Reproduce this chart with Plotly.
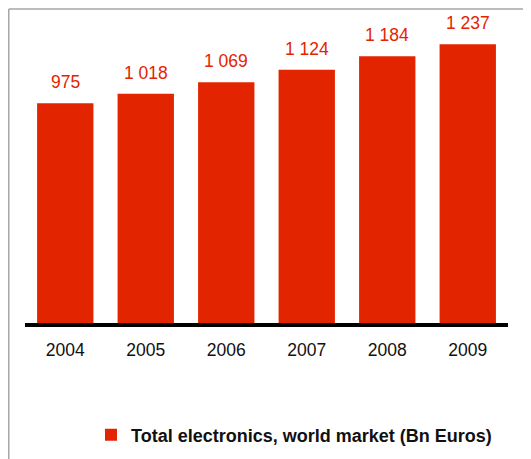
import plotly.graph_objects as go

years = ["2004", "2005", "2006", "2007", "2008", "2009"]
values = [975, 1018, 1069, 1124, 1184, 1237]
value_labels = ["975", "1 018", "1 069", "1 124", "1 184", "1 237"]
series_name = "Total electronics, world market (Bn Euros)"

RED = "#E32400"
OFF = 8                      # page body margin
W, H = 531 - OFF, 459 - OFF  # figure size
L, R, T, B = 17, 23, 12, 136
pw, ph = W - L - R, H - T - B

def px_x(sx):                # screen px -> paper
    return (sx - OFF - L) / pw

def px_y(sy):
    return (H - B - (sy - OFF)) / ph

fig = go.Figure()
fig.add_trace(go.Bar(
    x=years, y=values, name="<b>" + series_name + "</b>",
    marker=dict(color=RED, line=dict(width=0)),
    showlegend=True,
))

# value labels (x given as category index on the category axis)
for i, (v, lab) in enumerate(zip(values, value_labels)):
    fig.add_annotation(x=i, y=v, text=lab, showarrow=False,
                       yanchor="bottom", yshift=9,
                       font=dict(family="Liberation Sans, Arial", size=17.5, color=RED))

# gray frame (top and left)
fig.add_shape(type="line", xref="paper", yref="paper",
              x0=px_x(8.75), x1=px_x(540), y0=px_y(9), y1=px_y(9),
              line=dict(color="#A6A6A6", width=1.5))
fig.add_shape(type="line", xref="paper", yref="paper",
              x0=px_x(8.75), x1=px_x(8.75), y0=px_y(9), y1=px_y(470),
              line=dict(color="#A6A6A6", width=1.5))

fig.update_layout(
    width=W, height=H,
    margin=dict(l=L, r=R, t=T, b=B, autoexpand=False),
    paper_bgcolor="white", plot_bgcolor="white",
    bargap=0.3,
    font=dict(family="Liberation Sans, Arial", color="#111111"),
    xaxis=dict(type="category", range=[-0.5, 5.5], showline=True,
               linecolor="black", linewidth=4,
               ticks="", showgrid=False, zeroline=False,
               tickfont=dict(size=17.5, color="#111111"),
               ticklabelstandoff=8),
    yaxis=dict(range=[0, 1345], visible=False, showgrid=False, zeroline=False),
    legend=dict(orientation="h", x=px_x(91), y=px_y(435),
                xanchor="left", yanchor="middle",
                font=dict(size=18, color="#111111", family="Liberation Sans, Arial"),
                bgcolor="rgba(0,0,0,0)"),
)

fig.write_html("out.html")
